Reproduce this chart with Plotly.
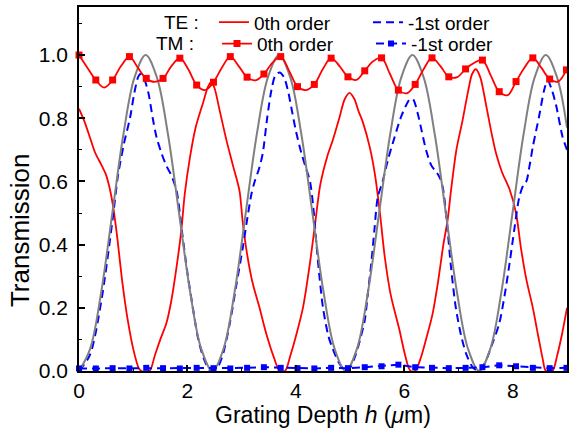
import plotly.graph_objects as go

# ---------------- data ----------------
# grey reference curve (no legend entry)
gray_h = [0, 0.205, 0.41, 0.615, 0.82, 1.025, 1.23, 1.435, 1.64, 1.845, 2.05, 2.255,
          2.46, 2.665, 2.87, 3.075, 3.28, 3.485, 3.69, 3.895, 4.1, 4.305, 4.51, 4.715,
          4.92, 5.125, 5.33, 5.535, 5.74, 5.945, 6.15, 6.355, 6.56, 6.765, 6.97, 7.175,
          7.38, 7.585, 7.79, 7.995, 8.2, 8.405, 8.61, 8.815, 9.0]
gray_t = [0, 0.07, 0.25, 0.5, 0.75, 0.93, 1.0, 0.93, 0.75, 0.5, 0.25, 0.07,
          0, 0.07, 0.25, 0.5, 0.75, 0.93, 1.0, 0.93, 0.75, 0.5, 0.25, 0.07,
          0, 0.07, 0.25, 0.5, 0.75, 0.93, 1.0, 0.93, 0.75, 0.5, 0.25, 0.07,
          0, 0.07, 0.25, 0.5, 0.75, 0.93, 1.0, 0.93, 0.77]

# TE : 0th order
te0_h = [0, 0.1, 0.2, 0.3, 0.42, 0.5, 0.57, 0.63, 0.7, 0.8, 0.9, 1.0, 1.1, 1.15, 1.3,
         1.4, 1.5, 1.61, 1.7, 1.8, 1.89, 1.95, 2.05, 2.15, 2.29, 2.38, 2.44, 2.5, 2.6,
         2.72, 2.84, 2.96, 3.02, 3.1, 3.2, 3.33, 3.45, 3.6, 3.7, 3.8, 3.9, 4.0, 4.13,
         4.25, 4.35, 4.45, 4.58, 4.68, 4.8, 4.9, 4.99, 5.08, 5.16, 5.23, 5.36, 5.46,
         5.55, 5.64, 5.75, 5.91, 6.0, 6.08, 6.12, 6.2, 6.3, 6.4, 6.52, 6.62, 6.72, 6.8,
         6.86, 6.96, 7.07, 7.17, 7.25, 7.32, 7.4, 7.51, 7.6, 7.69, 7.8, 7.94, 8.06,
         8.15, 8.25, 8.37, 8.47, 8.55, 8.61, 8.73, 8.82, 8.9, 9.0]
te0_t = [0.83, 0.79, 0.74, 0.69, 0.65, 0.62, 0.575, 0.52, 0.43, 0.28, 0.16, 0.07, 0.01, 0.0, 0.0,
         0.05, 0.1, 0.15, 0.22, 0.33, 0.45, 0.56, 0.68, 0.77, 0.85, 0.9, 0.915, 0.895, 0.82,
         0.73, 0.65, 0.57, 0.47, 0.37, 0.28, 0.2, 0.12, 0.04, 0.0, 0.0, 0.05, 0.11, 0.2,
         0.33, 0.46, 0.59, 0.68, 0.73, 0.8, 0.86, 0.88, 0.86, 0.82, 0.79, 0.71, 0.62,
         0.5, 0.36, 0.24, 0.13, 0.06, 0.01, 0.0, 0.0, 0.04, 0.1, 0.18, 0.28, 0.4, 0.48,
         0.57, 0.7, 0.79, 0.88, 0.94, 0.955, 0.93, 0.84, 0.76, 0.69, 0.63, 0.575, 0.5,
         0.39, 0.29, 0.2, 0.11, 0.04, 0.0, 0.0, 0.05, 0.11, 0.2]

# TE : -1st order
te1_h = [0, 0.2, 0.41, 0.62, 0.72, 0.83, 0.94, 1.02, 1.09, 1.13, 1.2, 1.28, 1.36, 1.43,
         1.52, 1.61, 1.7, 1.8, 1.9, 2.0, 2.1, 2.2, 2.3, 2.4, 2.47, 2.55, 2.65, 2.78, 2.9,
         3.02, 3.12, 3.18, 3.24, 3.32, 3.39, 3.47, 3.55, 3.62, 3.7, 3.78, 3.85, 3.92, 4.0,
         4.1, 4.19, 4.26, 4.32, 4.38, 4.44, 4.5, 4.6, 4.68, 4.78, 4.86, 4.92, 5.0, 5.1,
         5.2, 5.27, 5.33, 5.39, 5.45, 5.51, 5.6, 5.7, 5.82, 5.93, 6.03, 6.1, 6.16, 6.24,
         6.32, 6.4, 6.5, 6.59, 6.66, 6.71, 6.78, 6.86, 6.95, 7.05, 7.15, 7.27, 7.38, 7.51,
         7.63, 7.75, 7.85, 7.94, 8.03, 8.12, 8.2, 8.25, 8.31, 8.37, 8.43, 8.49, 8.58,
         8.64, 8.72, 8.8, 8.92, 9.0]
te1_t = [0.0, 0.05, 0.22, 0.48, 0.62, 0.72, 0.8, 0.88, 0.93, 0.94, 0.925, 0.88, 0.8, 0.74,
         0.69, 0.65, 0.62, 0.57, 0.44, 0.31, 0.2, 0.1, 0.04, 0.005, 0.0, 0.01, 0.05, 0.15, 0.27,
         0.39, 0.5, 0.56, 0.6, 0.64, 0.69, 0.8, 0.89, 0.935, 0.945, 0.93, 0.89, 0.83, 0.76,
         0.69, 0.64, 0.6, 0.52, 0.4, 0.29, 0.2, 0.11, 0.07, 0.03, 0.01, 0.0, 0.01, 0.05,
         0.11, 0.16, 0.25, 0.34, 0.45, 0.55, 0.6, 0.67, 0.74, 0.8, 0.84, 0.86, 0.86, 0.82,
         0.76, 0.7, 0.65, 0.63, 0.61, 0.58, 0.48, 0.33, 0.2, 0.11, 0.05, 0.01, 0.0, 0.035,
         0.09, 0.15, 0.24, 0.34, 0.45, 0.55, 0.59, 0.6, 0.65, 0.71, 0.76, 0.81, 0.89,
         0.92, 0.89, 0.84, 0.74, 0.70]

# TM : 0th order (markers on every second sample)
tm0_h = [0, 0.155, 0.31, 0.465, 0.62, 0.775, 0.93, 1.085, 1.24, 1.395, 1.55, 1.705, 1.86,
         2.015, 2.17, 2.325, 2.48, 2.635, 2.79, 2.945, 3.1, 3.255, 3.41, 3.565, 3.72, 3.875,
         4.03, 4.185, 4.34, 4.495, 4.65, 4.805, 4.96, 5.115, 5.27, 5.425, 5.58, 5.735, 5.89,
         6.045, 6.2, 6.355, 6.51, 6.665, 6.82, 6.975, 7.13, 7.285, 7.44, 7.595, 7.75, 7.905,
         8.06, 8.215, 8.37, 8.525, 8.68, 8.835, 8.99]
tm0_t = [1.0, 0.96, 0.921, 0.897, 0.921, 0.965, 0.995, 0.96, 0.926, 0.915, 0.926, 0.965, 0.99,
         0.955, 0.905, 0.889, 0.914, 0.96, 0.995, 0.965, 0.93, 0.92, 0.94, 0.975, 0.995, 0.95,
         0.90, 0.889, 0.907, 0.955, 0.99, 0.965, 0.931, 0.921, 0.95, 0.98, 0.991, 0.94, 0.889,
         0.879, 0.907, 0.955, 0.991, 0.965, 0.931, 0.93, 0.956, 0.975, 0.984, 0.935, 0.884, 0.873,
         0.916, 0.96, 0.991, 0.96, 0.924, 0.916, 0.953]

# TM : -1st order
tm1_h = [0, 0.31, 0.62, 0.93, 1.24, 1.55, 1.86, 2.17, 2.48, 2.79, 3.1, 3.41, 3.72, 4.03,
         4.34, 4.65, 4.96, 5.27, 5.58, 5.89, 6.2, 6.51, 6.82, 7.13, 7.44, 7.75, 8.06, 8.37,
         8.68, 8.99]
tm1_t = [0.008, 0.008, 0.009, 0.008, 0.01, 0.009, 0.008, 0.01, 0.009, 0.008, 0.01, 0.012,
         0.01, 0.009, 0.008, 0.01, 0.009, 0.012, 0.015, 0.02, 0.012, 0.01, 0.009, 0.01,
         0.012, 0.018, 0.015, 0.01, 0.009, 0.01]

x_tick_vals = [0, 2, 4, 6, 8]
y_tick_vals = [0.0, 0.2, 0.4, 0.6, 0.8, 1.0]
y_tick_text = ["0.0", "0.2", "0.4", "0.6", "0.8", "1.0"]

# ---------------- styling ----------------
FONT = "Liberation Sans, Arial, sans-serif"
RED = "#ff0000"
BLUE = "#0000ff"
GREY = "#808080"
DASH = "8px,5px"

fig = go.Figure()

fig.add_trace(go.Scatter(x=te0_h, y=te0_t, mode="lines", name="0th order",
                         line=dict(color=RED, width=1.8, shape="spline", smoothing=0.8),
                         legend="legend"))
fig.add_trace(go.Scatter(x=te1_h, y=te1_t, mode="lines", name="-1st order",
                         line=dict(color=BLUE, width=2, dash=DASH, shape="spline", smoothing=0.8),
                         legend="legend"))
fig.add_trace(go.Scatter(x=gray_h, y=gray_t, mode="lines", showlegend=False,
                         line=dict(color=GREY, width=2, shape="spline", smoothing=1.0)))
fig.add_trace(go.Scatter(x=tm0_h, y=tm0_t, mode="lines+markers", name="0th order",
                         line=dict(color=RED, width=1.8, shape="spline", smoothing=1.0),
                         marker=dict(symbol="square", size=7, color=RED, maxdisplayed=30),
                         cliponaxis=False, legend="legend2"))
fig.add_trace(go.Scatter(x=tm1_h, y=tm1_t, mode="lines+markers", name="-1st order",
                         line=dict(color=BLUE, width=2, dash=DASH),
                         marker=dict(symbol="square", size=6, color=BLUE),
                         cliponaxis=False, legend="legend2"))

legend_common = dict(orientation="h", xanchor="left", yanchor="middle",
                     bgcolor="rgba(0,0,0,0)", borderwidth=0, entrywidth=109,
                     font=dict(family=FONT, size=19, color="black"),
                     tracegroupgap=0)

fig.update_layout(
    width=569, height=434,
    margin=dict(l=79, r=2, t=7, b=63, autoexpand=False),
    paper_bgcolor="white", plot_bgcolor="white",
    font=dict(family=FONT, size=21, color="black"),
    legend=dict(x=0.2766, y=0.958, **legend_common),
    legend2=dict(x=0.2828, y=0.899, **legend_common),
    xaxis=dict(range=[0, 9], tickmode="array", tickvals=x_tick_vals, automargin=False,
               ticks="inside", ticklen=6, tickwidth=1.5, tickcolor="black",
               minor=dict(dtick=1, ticks="inside", ticklen=3, tickwidth=1.2, tickcolor="black"),
               showline=True, linecolor="black", linewidth=1.5, mirror=True,
               showgrid=False, zeroline=False,
               tickfont=dict(family=FONT, size=21),
               title=dict(text="Grating Depth <i>h</i> (<i>μ</i>m)",
                          font=dict(family=FONT, size=23), standoff=2)),
    yaxis=dict(range=[0, 1.152], tickmode="array", tickvals=y_tick_vals, ticktext=y_tick_text,
               automargin=False,
               ticks="inside", ticklen=6, tickwidth=1.5, tickcolor="black",
               minor=dict(dtick=0.1, ticks="inside", ticklen=3, tickwidth=1.2, tickcolor="black"),
               showline=True, linecolor="black", linewidth=1.5, mirror=True,
               showgrid=False, zeroline=False, ticklabelstandoff=5,
               tickfont=dict(family=FONT, size=21)),
    annotations=[
        dict(text="Transmission", textangle=-90, showarrow=False,
             xref="paper", yref="paper", x=-0.121, y=0.387,
             xanchor="center", yanchor="middle",
             font=dict(family=FONT, size=26, color="black")),
        dict(text="TE :", showarrow=False, xref="paper", yref="paper",
             x=(162 - 79) / 488, y=(371 - 22.5) / 364, xanchor="left", yanchor="middle",
             font=dict(family=FONT, size=19, color="black")),
        dict(text="TM :", showarrow=False, xref="paper", yref="paper",
             x=(154 - 79) / 488, y=(371 - 44) / 364, xanchor="left", yanchor="middle",
             font=dict(family=FONT, size=19, color="black")),
    ],
)

fig.write_html("out.html", config={"displayModeBar": False},
               post_script="document.body.style.margin='0px';")
